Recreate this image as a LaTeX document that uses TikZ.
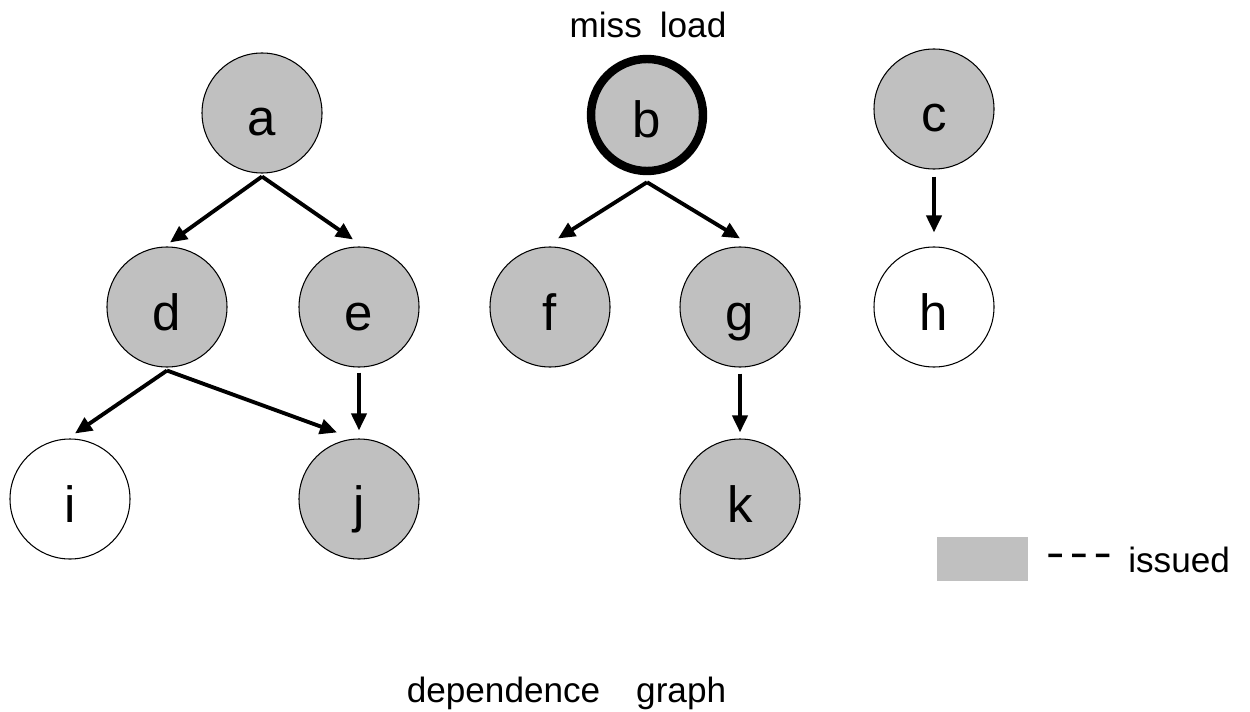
\documentclass[tikz,border=0pt]{standalone}
\usepackage{fontspec}
\setmainfont{Liberation Sans}
\newfontfamily\dashfont[BoldFeatures={FakeBold=5}]{Liberation Sans}
\usetikzlibrary{arrows.meta}
\definecolor{issuedgray}{RGB}{192,192,192}

\begin{document}
\begin{tikzpicture}[
    vertex/.style={circle, draw, line width=0.6pt, fill=issuedgray, minimum size=2.4cm, inner sep=0pt, text height=0.92cm, text depth=0pt, font=\fontsize{29}{34}\selectfont},
    ready/.style={vertex, fill=white},
    missvertex/.style={vertex, line width=4.8pt, minimum size=2.24cm},
    note/.style={font=\fontsize{20}{24}\selectfont, inner sep=0pt},
    arrow/.style={-{Triangle[length=0.34cm,width=0.3cm]}, line width=2.2pt}
]
    \useasboundingbox (0,0) rectangle (25,14.22);

    % first row
    \node[vertex] (a) at (5.24,11.96) {a};
    \node[missvertex] (b) at (12.94,11.92) {b};
    \node[vertex] (c) at (18.68,12.04) {c};
    \node[note, anchor=base] (missload) at (12.96,13.46) {miss\hspace{0.36cm}load};

    % second row
    \node[vertex] (d) at (3.34,8.08) {d};
    \node[vertex] (e) at (7.18,8.08) {e};
    \node[vertex] (f) at (11.0,8.08) {f};
    \node[vertex] (g) at (14.8,8.08) {g};
    \node[ready] (h) at (18.68,8.08) {h};

    % third row
    \node[ready] (i) at (1.4,4.24) {i};
    \node[vertex] (j) at (7.18,4.24) {j};
    \node[vertex] (k) at (14.8,4.24) {k};

    \draw[arrow] ([yshift=-0.06cm]a.south) -- ([shift={(0.06,0.08)}]d.north);
    \draw[arrow] ([yshift=-0.06cm]a.south) -- ([shift={(-0.12,0.14)}]e.north);
    \draw[arrow] ([yshift=-0.14cm]b.south) -- ([shift={(0.16,0.16)}]f.north);
    \draw[arrow] ([yshift=-0.14cm]b.south) -- ([yshift=0.16cm]g.north);
    \draw[arrow] ([yshift=-0.14cm]c.south) -- ([yshift=0.28cm]h.north);
    \draw[arrow] ([yshift=-0.06cm]d.south) -- ([shift={(0.1,0.1)}]i.north);
    \draw[arrow] ([yshift=-0.06cm]d.south) -- ([shift={(-0.44,0.12)}]j.north);
    \draw[arrow] ([yshift=-0.1cm]e.south) -- ([yshift=0.16cm]j.north);
    \draw[arrow] ([yshift=-0.12cm]g.south) -- ([yshift=0.12cm]k.north);

    % legend
    \node[fill=issuedgray, minimum width=1.82cm, minimum height=0.88cm, inner sep=0pt] (key) at (19.65,3.04) {};
    \node[font=\fontsize{14}{17}\dashfont\bfseries, inner sep=0pt, anchor=base west] (dashes) at (20.96,2.98) {–\hspace{0.2cm}–\hspace{0.2cm}–};
    \node[note, anchor=base west] (issued) at (22.56,2.78) {issued};

    \node[note, anchor=base] (caption) at (11.33,0.18) {dependence\hspace{0.72cm}graph};
\end{tikzpicture}
\end{document}
